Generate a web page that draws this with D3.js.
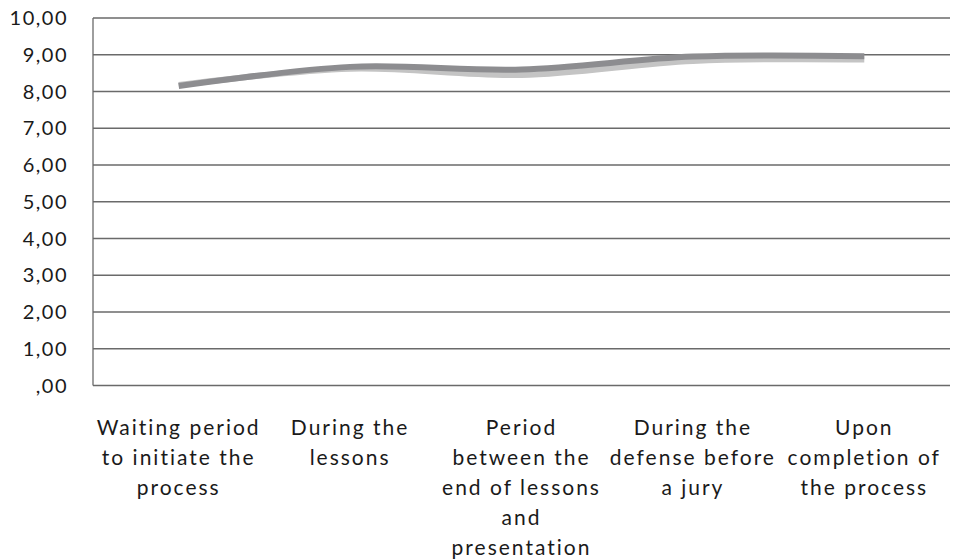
<!DOCTYPE html>
<html>
<head>
<meta charset="utf-8">
<script src="https://cdn.jsdelivr.net/npm/d3@7"></script>
<style>
  html, body { margin: 0; padding: 0; background: #fff; }
  text { font-family: Lato, "Open Sans", sans-serif; fill: #1a1a1a; }
</style>
</head>
<body>
<div id="chart"></div>
<script>
// categories along the x axis (each one is a list of wrapped lines)
const categories = [
    ["Waiting period", "to initiate  the", "process"],
    ["During the", "lessons"],
    ["Period", "between the", "end of lessons", "and", "presentation"],
    ["During the", "defense before", "a jury"],
    ["Upon", "completion of", "the process"]
];

// two series
const seriesLight = [8.18, 8.62, 8.45, 8.83, 8.87];
const seriesDark = [8.15, 8.67, 8.60, 8.95, 8.96];

const yTicks = [0, 1, 2, 3, 4, 5, 6, 7, 8, 9, 10];

const width = 953;
const height = 560;
const margin = { top: 18, right: 3, bottom: 174.5, left: 93 };
const innerW = width - margin.left - margin.right;
const innerH = height - margin.top - margin.bottom;

const svg = d3.select("#chart")
    .append("svg")
    .attr("width", width)
    .attr("height", height);

const g = svg.append("g")
    .attr("transform", `translate(${margin.left}, ${margin.top})`);

const xScale = d3.scaleBand()
    .domain(d3.range(categories.length))
    .range([0, innerW]);

const yScale = d3.scaleLinear()
    .domain([0, 10])
    .range([innerH, 0]);

// y tick label format: "8,00", zero shown as ",00"
const fmt = v => v === 0 ? ",00" : d3.format(".2f")(v).replace(".", ",");

// gridlines
g.selectAll(".grid")
    .data(yTicks)
    .enter()
    .append("line")
    .attr("class", "grid")
    .attr("x1", 0)
    .attr("x2", innerW)
    .attr("y1", d => yScale(d))
    .attr("y2", d => yScale(d))
    .attr("stroke", "#6a6a6a")
    .attr("stroke-width", 1.3);

// left axis line
g.append("line")
    .attr("x1", 0).attr("x2", 0)
    .attr("y1", yScale(0)).attr("y2", yScale(10))
    .attr("stroke", "#6a6a6a")
    .attr("stroke-width", 1.3);

// y labels
g.selectAll(".ylabel")
    .data(yTicks)
    .enter()
    .append("text")
    .attr("class", "ylabel")
    .attr("x", -25)
    .attr("y", d => yScale(d))
    .attr("dy", "0.35em")
    .attr("text-anchor", "end")
    .style("font-size", "20px")
    .style("letter-spacing", "1.5px")
    .text(fmt);

// x category labels
const xl = g.selectAll(".xlabel")
    .data(categories)
    .enter()
    .append("text")
    .attr("class", "xlabel")
    .attr("text-anchor", "middle")
    .attr("transform", (d, i) => `translate(${xScale(i) + xScale.bandwidth() / 2}, ${innerH + 49})`)
    .style("font-size", "21px")
    .style("letter-spacing", "2px");

xl.selectAll("tspan")
    .data(d => d)
    .enter()
    .append("tspan")
    .attr("x", 0)
    .attr("dy", (d, i) => i === 0 ? 0 : 30)
    .text(d => d);

// lines
const line = d3.line()
    .x((d, i) => xScale(i) + xScale.bandwidth() / 2)
    .y(d => yScale(d))
    .curve(d3.curveCatmullRom.alpha(0));

g.append("path")
    .datum(seriesLight)
    .attr("fill", "none")
    .attr("stroke", "#c4c4c4")
    .attr("stroke-width", 6)
    .attr("d", line);

g.append("path")
    .datum(seriesDark)
    .attr("fill", "none")
    .attr("stroke", "#8d8d90")
    .attr("stroke-width", 6)
    .attr("d", line);
</script>
</body>
</html>
